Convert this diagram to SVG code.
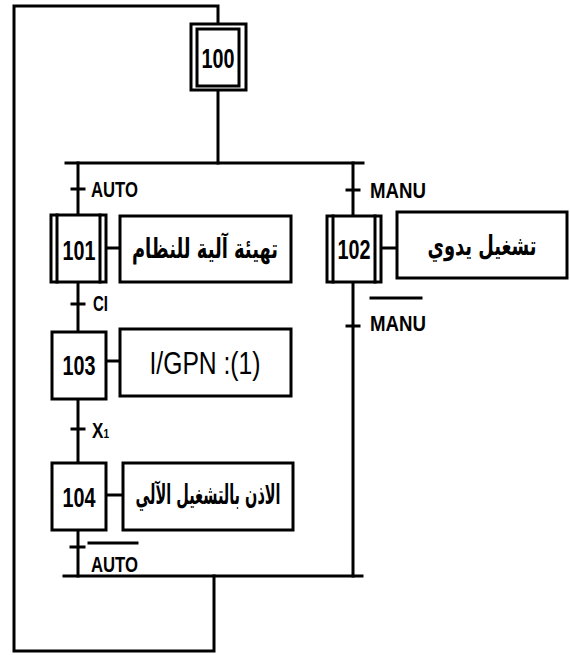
<svg xmlns="http://www.w3.org/2000/svg" width="570" height="655" viewBox="0 0 570 655">
<style>
.ln{fill:none;stroke:#000;stroke-width:3;stroke-linecap:square}
.bx{fill:#fff;stroke:#000;stroke-width:3}
.num{font-family:"Liberation Sans",Arial,sans-serif;font-weight:bold;font-size:28px;fill:#000;text-anchor:middle}
.lbl{font-family:"Liberation Sans",Arial,sans-serif;font-weight:bold;font-size:22px;fill:#000}
.ar{font-family:"DejaVu Sans","Noto Sans",sans-serif;font-weight:bold;font-size:27px;fill:#000;text-anchor:middle}
.act{font-family:"Liberation Sans",Arial,sans-serif;font-size:31px;fill:#000;text-anchor:middle}
</style>
<g id="connectors">
<polyline class="ln" points="218,90 218,163"/>
<polyline class="ln" points="218,24 218,6 14,6 14,651 214,651 214,576"/>
<line class="ln" x1="66" y1="163" x2="363" y2="163"/>
<line class="ln" x1="78" y1="163" x2="78" y2="215"/>
<line class="ln" x1="353" y1="163" x2="353" y2="216"/>
<line class="ln" x1="78" y1="282" x2="78" y2="332"/>
<line class="ln" x1="78" y1="399" x2="78" y2="463"/>
<line class="ln" x1="78" y1="530" x2="78" y2="576"/>
<line class="ln" x1="353" y1="282" x2="353" y2="576"/>
<line class="ln" x1="64" y1="576" x2="362" y2="576"/>
<line class="ln" x1="106" y1="248" x2="120" y2="248"/>
<line class="ln" x1="381" y1="248" x2="397" y2="248"/>
<line class="ln" x1="106" y1="361" x2="120" y2="361"/>
<line class="ln" x1="106" y1="495" x2="123" y2="495"/>
</g>
<g id="transitions">
<line class="ln" x1="72" y1="189" x2="84" y2="189"/>
<text class="lbl" x="91" y="197" textLength="47" lengthAdjust="spacingAndGlyphs">AUTO</text>
<line class="ln" x1="347" y1="190" x2="359" y2="190"/>
<text class="lbl" x="370" y="198" textLength="56" lengthAdjust="spacingAndGlyphs">MANU</text>
<line class="ln" x1="72" y1="304" x2="84" y2="304"/>
<text class="lbl" x="93" y="311" textLength="15" lengthAdjust="spacingAndGlyphs">CI</text>
<line class="ln" x1="72" y1="429" x2="84" y2="429"/>
<text class="lbl" x="92" y="438" textLength="17" lengthAdjust="spacingAndGlyphs">X<tspan font-size="13">1</tspan></text>
<line class="ln" x1="347" y1="326" x2="359" y2="326"/>
<line class="ln" x1="371" y1="298" x2="421" y2="298"/>
<text class="lbl" x="370" y="331" textLength="56" lengthAdjust="spacingAndGlyphs">MANU</text>
<line class="ln" x1="71" y1="547" x2="84" y2="547"/>
<line class="ln" x1="89" y1="543" x2="137" y2="543"/>
<text class="lbl" x="91" y="572" textLength="47" lengthAdjust="spacingAndGlyphs">AUTO</text>
</g>
<g id="step100">
<rect class="bx" x="191" y="24" width="55" height="66"/>
<rect class="bx" x="197" y="29" width="42" height="57"/>
<text class="num" x="218" y="68" textLength="33" lengthAdjust="spacingAndGlyphs">100</text>
</g>
<g id="step101">
<rect class="bx" x="51" y="215" width="55" height="67"/>
<line class="ln" x1="57" y1="215" x2="57" y2="282"/>
<line class="ln" x1="100" y1="215" x2="100" y2="282"/>
<text class="num" x="79" y="260" textLength="33" lengthAdjust="spacingAndGlyphs">101</text>
</g>
<g id="action101">
<rect class="bx" x="120" y="216" width="171" height="66"/>
<text class="ar" x="205" y="258" textLength="146" lengthAdjust="spacingAndGlyphs">تهيئة آلية للنظام</text>
</g>
<g id="step102">
<rect class="bx" x="327" y="216" width="54" height="66"/>
<line class="ln" x1="333" y1="216" x2="333" y2="282"/>
<line class="ln" x1="375" y1="216" x2="375" y2="282"/>
<text class="num" x="354" y="259" textLength="33" lengthAdjust="spacingAndGlyphs">102</text>
</g>
<g id="action102">
<rect class="bx" x="397" y="212" width="170" height="66"/>
<text class="ar" x="482" y="255" textLength="109" lengthAdjust="spacingAndGlyphs">تشغيل يدوي</text>
</g>
<g id="step103">
<rect class="bx" x="52" y="332" width="54" height="67"/>
<text class="num" x="79" y="375" textLength="33" lengthAdjust="spacingAndGlyphs">103</text>
</g>
<g id="action103">
<rect class="bx" x="120" y="329" width="171" height="67"/>
<text class="act" x="205" y="374" textLength="111" lengthAdjust="spacingAndGlyphs">I/GPN :(1)</text>
</g>
<g id="step104">
<rect class="bx" x="52" y="463" width="54" height="67"/>
<text class="num" x="79" y="507" textLength="33" lengthAdjust="spacingAndGlyphs">104</text>
</g>
<g id="action104">
<rect class="bx" x="123" y="463" width="170" height="67"/>
<text class="ar" x="208" y="504" textLength="145" lengthAdjust="spacingAndGlyphs">الاذن بالتشغيل الآلي</text>
</g>
</svg>
